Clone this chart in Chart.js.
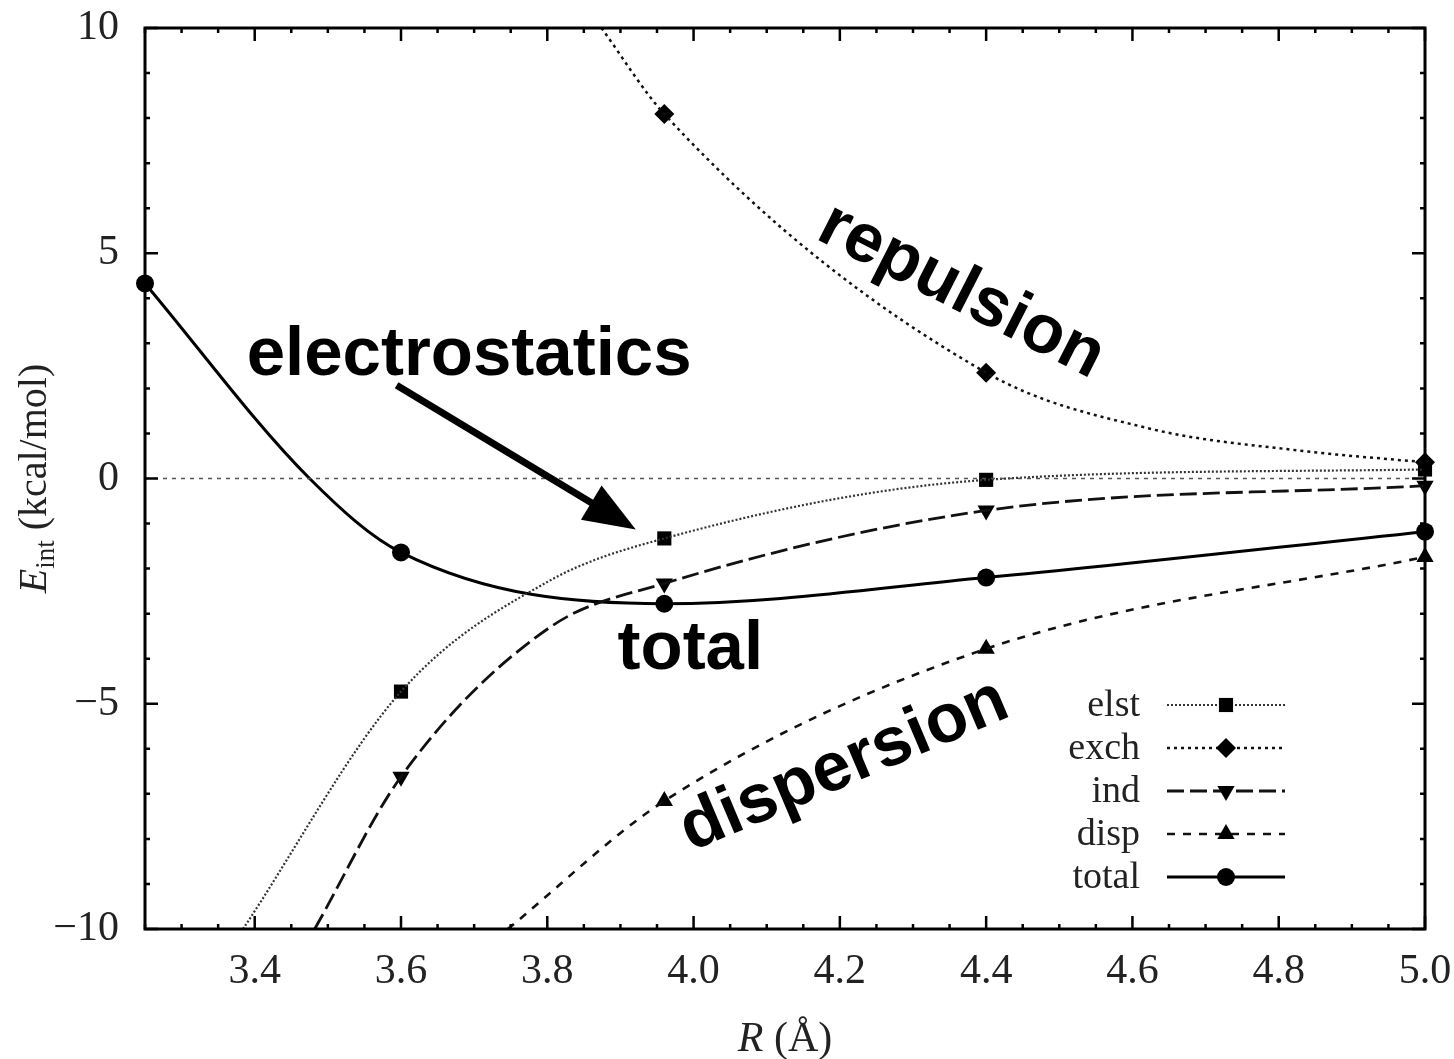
<!DOCTYPE html>
<html>
<head>
<meta charset="utf-8">
<script src="https://cdn.jsdelivr.net/npm/chart.js@4.4.1/dist/chart.umd.min.js"></script>
<style>
  html, body { margin: 0; padding: 0; background: #fff; }
  #wrap { width: 1454px; height: 1059px; }
</style>
</head>
<body>
<div id="wrap"><canvas id="energyChart" width="1454" height="1059"></canvas></div>
<script>
// R (Å) where the computed points sit
const rPoints = [3.25, 3.6, 3.96, 4.4, 5.0];

// marker values (kcal/mol), null = off the plot
const elstPts  = [null, -4.73, -1.33, -0.03, 0.20];
const exchPts  = [null, null, 8.09, 2.35, 0.36];
const indPts   = [null, -6.62, -2.33, -0.71, -0.16];
const dispPts  = [null, null, -7.16, -3.78, -1.74];
const totalPts = [4.33, -1.64, -2.78, -2.20, -1.18];

// fitted curves
const elstCurveR  = [3.384, 3.6, 3.803, 3.96, 4.4, 5.0];
const elstCurveE  = [-10, -4.73, -2.27, -1.33, -0.03, 0.20];
const exchCurveR  = [3.874, 3.96, 4.4, 4.623, 4.828, 5.0];
const exchCurveE  = [10, 8.09, 2.35, 1.11, 0.62, 0.36];
const indCurveR   = [3.482, 3.6, 3.803, 3.96, 4.4, 5.0];
const indCurveE   = [-10, -6.62, -3.31, -2.33, -0.71, -0.16];
const dispCurveR  = [3.746, 3.96, 4.4, 5.0];
const dispCurveE  = [-10, -7.16, -3.78, -1.74];
const totalCurveR = [3.25, 3.475, 3.6, 3.96, 4.4, 5.0];
const totalCurveE = [4.33, 0, -1.64, -2.78, -2.20, -1.18];

// axes
const xTickVals = [3.4, 3.6, 3.8, 4.0, 4.2, 4.4, 4.6, 4.8, 5.0];
const xTickLabels = ['3.4', '3.6', '3.8', '4.0', '4.2', '4.4', '4.6', '4.8', '5.0'];
const yTickVals = [-10, -5, 0, 5, 10];
const yTickLabels = ['\u221210', '\u22125', '0', '5', '10'];

const seriesNames = ['elst', 'exch', 'ind', 'disp', 'total'];

const serif = '"Liberation Serif", "DejaVu Serif", serif';
const sansBold = 'bold 69px "Liberation Sans", Arial, sans-serif';

// line + marker styles per series
const styles = {
  elst:  { color: '#333', width: 2.2, dash: [2, 2],  point: 'rect',     rot: 0,   radius: 10 },
  exch:  { color: '#111', width: 2.5, dash: [3, 4],  point: 'rectRot',  rot: 0,   radius: 10 },
  ind:   { color: '#111', width: 2.8, dash: [17, 6], point: 'triangle', rot: 180, radius: 10 },
  disp:  { color: '#111', width: 2.6, dash: [8, 8],  point: 'triangle', rot: 0,   radius: 10 },
  total: { color: '#000', width: 3,   dash: [],      point: 'circle',   rot: 0,   radius: 9 }
};

function toXY(rs, es) {
  const out = [];
  rs.forEach((r, i) => {
    if (es[i] !== null) out.push({ x: r, y: es[i] });
  });
  return out;
}

const curves = {
  elst: toXY(elstCurveR, elstCurveE),
  exch: toXY(exchCurveR, exchCurveE),
  ind: toXY(indCurveR, indCurveE),
  disp: toXY(dispCurveR, dispCurveE),
  total: toXY(totalCurveR, totalCurveE)
};
const markers = {
  elst: toXY(rPoints, elstPts),
  exch: toXY(rPoints, exchPts),
  ind: toXY(rPoints, indPts),
  disp: toXY(rPoints, dispPts),
  total: toXY(rPoints, totalPts)
};

const datasets = [{
  label: 'zero',
  data: [{ x: 3.25, y: 0 }, { x: 5.0, y: 0 }],
  showLine: true,
  borderColor: '#555',
  borderWidth: 1.5,
  borderDash: [4, 5],
  pointRadius: 0
}];

seriesNames.forEach(name => {
  const s = styles[name];
  datasets.push({
    label: name + ' curve',
    data: curves[name],
    showLine: true,
    cubicInterpolationMode: 'monotone',
    borderColor: s.color,
    borderWidth: s.width,
    borderDash: s.dash,
    pointRadius: 0,
    clip: 12
  });
  datasets.push({
    label: name,
    data: markers[name],
    showLine: false,
    pointStyle: s.point,
    pointRotation: s.rot,
    pointRadius: s.radius,
    pointBackgroundColor: '#000',
    pointBorderWidth: 0,
    clip: 14
  });
});

// text annotations placed in data coordinates
const notes = [
  { text: 'electrostatics', x: 3.389, y: 2.29, angle: 0, align: 'left', base: 'alphabetic' },
  { text: 'total', x: 3.896, y: -4.22, angle: 0, align: 'left', base: 'alphabetic' },
  { text: 'repulsion', x: 4.366, y: 4.15, angle: 27, align: 'center', base: 'middle' },
  { text: 'dispersion', x: 4.206, y: -6.38, angle: -23, align: 'center', base: 'middle' }
];
const arrow = { x0: 3.594, y0: 2.07, x1: 3.921, y1: -1.13 };

const framePlugin = {
  id: 'frame',
  afterDraw(chart) {
    const ctx = chart.ctx;
    const area = chart.chartArea;
    const xs = chart.scales.x;
    const ys = chart.scales.y;
    ctx.save();

    // frame
    ctx.strokeStyle = '#000';
    ctx.lineWidth = 3;
    ctx.setLineDash([]);
    ctx.strokeRect(area.left, area.top, area.right - area.left, area.bottom - area.top);

    // inward ticks on all four sides
    ctx.lineWidth = 2.5;
    ctx.beginPath();
    for (let v = 3.25; v <= 5.0001; v += 0.05) {
      const px = xs.getPixelForValue(v);
      const major = xTickVals.some(t => Math.abs(t - v) < 1e-6);
      const len = major ? 13 : 5;
      ctx.moveTo(px, area.bottom); ctx.lineTo(px, area.bottom - len);
      ctx.moveTo(px, area.top); ctx.lineTo(px, area.top + len);
    }
    for (let v = -10; v <= 10; v += 1) {
      const py = ys.getPixelForValue(v);
      const major = yTickVals.includes(v);
      const len = major ? 13 : 5;
      ctx.moveTo(area.left, py); ctx.lineTo(area.left + len, py);
      ctx.moveTo(area.right, py); ctx.lineTo(area.right - len, py);
    }
    ctx.stroke();

    // axis titles
    ctx.fillStyle = '#222';
    ctx.textBaseline = 'alphabetic';
    ctx.font = 'italic 42px ' + serif;
    const wR = ctx.measureText('R').width;
    ctx.font = '42px ' + serif;
    const wRest = ctx.measureText(' (\u00C5)').width;
    let tx = (area.left + area.right) / 2 - (wR + wRest) / 2;
    ctx.font = 'italic 42px ' + serif;
    ctx.textAlign = 'left';
    ctx.fillText('R', tx, 1051);
    ctx.font = '42px ' + serif;
    ctx.fillText(' (\u00C5)', tx + wR, 1051);

    ctx.save();
    ctx.translate(46, (area.top + area.bottom) / 2);
    ctx.rotate(-Math.PI / 2);
    ctx.font = 'italic 40px ' + serif;
    const wE = ctx.measureText('E').width;
    ctx.font = '27px ' + serif;
    const wSub = ctx.measureText('int').width;
    ctx.font = '40px ' + serif;
    const wUnit = ctx.measureText(' (kcal/mol)').width;
    let ux = -(wE + wSub + wUnit) / 2;
    ctx.font = 'italic 40px ' + serif;
    ctx.fillText('E', ux, 0);
    ctx.font = '27px ' + serif;
    ctx.fillText('int', ux + wE, 8);
    ctx.font = '40px ' + serif;
    ctx.fillText(' (kcal/mol)', ux + wE + wSub, 0);
    ctx.restore();

    // legend
    const textRight = area.right - 285;
    const lineL = area.right - 258;
    const lineR = area.right - 140;
    const rowGap = 43;
    const firstRow = area.bottom - 52 - rowGap * (seriesNames.length - 1);
    seriesNames.forEach((name, i) => {
      const s = styles[name];
      const y = firstRow + i * rowGap;
      ctx.fillStyle = '#222';
      ctx.font = '38px ' + serif;
      ctx.textAlign = 'right';
      ctx.textBaseline = 'middle';
      ctx.fillText(name, textRight, y + 1);
      ctx.strokeStyle = s.color;
      ctx.lineWidth = s.width;
      ctx.setLineDash(s.dash);
      ctx.beginPath();
      ctx.moveTo(lineL, y);
      ctx.lineTo(lineR, y);
      ctx.stroke();
      ctx.setLineDash([]);
      ctx.fillStyle = '#000';
      Chart.helpers.drawPoint(ctx, {
        pointStyle: s.point, rotation: s.rot, radius: s.radius, borderWidth: 0
      }, (lineL + lineR) / 2, y);
    });

    // big annotations
    ctx.fillStyle = '#000';
    ctx.font = sansBold;
    notes.forEach(n => {
      ctx.save();
      ctx.translate(xs.getPixelForValue(n.x), ys.getPixelForValue(n.y));
      ctx.rotate(n.angle * Math.PI / 180);
      ctx.textAlign = n.align;
      ctx.textBaseline = n.base;
      ctx.fillText(n.text, 0, 0);
      ctx.restore();
    });

    // arrow
    const ax0 = xs.getPixelForValue(arrow.x0), ay0 = ys.getPixelForValue(arrow.y0);
    const ax1 = xs.getPixelForValue(arrow.x1), ay1 = ys.getPixelForValue(arrow.y1);
    const ang = Math.atan2(ay1 - ay0, ax1 - ax0);
    const headLen = 52, headHalf = 20;
    const bx = ax1 - headLen * Math.cos(ang), by = ay1 - headLen * Math.sin(ang);
    ctx.strokeStyle = '#000';
    ctx.lineWidth = 7;
    ctx.beginPath();
    ctx.moveTo(ax0, ay0);
    ctx.lineTo(bx + 4 * Math.cos(ang), by + 4 * Math.sin(ang));
    ctx.stroke();
    ctx.beginPath();
    ctx.moveTo(ax1, ay1);
    ctx.lineTo(bx + headHalf * Math.sin(ang), by - headHalf * Math.cos(ang));
    ctx.lineTo(bx - headHalf * Math.sin(ang), by + headHalf * Math.cos(ang));
    ctx.closePath();
    ctx.fill();

    ctx.restore();
  }
};

function noOverflow(scale) {
  scale.paddingTop = 0;
  scale.paddingBottom = 0;
  scale.paddingLeft = 0;
  scale.paddingRight = 0;
}

const ctx = document.getElementById('energyChart').getContext('2d');
const chart = new Chart(ctx, {
  type: 'scatter',
  data: { datasets: datasets },
  options: {
    responsive: false,
    animation: false,
    layout: { padding: { top: 28, right: 29, left: 0, bottom: 0 } },
    plugins: {
      legend: { display: false },
      tooltip: { enabled: false }
    },
    scales: {
      x: {
        type: 'linear',
        min: 3.25,
        max: 5.0,
        afterBuildTicks: scale => { scale.ticks = xTickVals.map(v => ({ value: v })); },
        afterFit: scale => { scale.height = 130; noOverflow(scale); },
        grid: { display: false, drawTicks: false },
        border: { display: false },
        ticks: {
          padding: 18,
          color: '#222',
          font: { family: serif, size: 42 },
          maxRotation: 0,
          callback: (value, index) => xTickLabels[index]
        }
      },
      y: {
        type: 'linear',
        min: -10,
        max: 10,
        afterBuildTicks: scale => { scale.ticks = yTickVals.map(v => ({ value: v })); },
        afterFit: scale => { scale.width = 145; noOverflow(scale); },
        grid: { display: false, drawTicks: false },
        border: { display: false },
        ticks: {
          padding: 26,
          color: '#222',
          font: { family: serif, size: 42 },
          callback: (value, index) => yTickLabels[index]
        }
      }
    }
  },
  plugins: [framePlugin]
});
</script>
</body>
</html>
